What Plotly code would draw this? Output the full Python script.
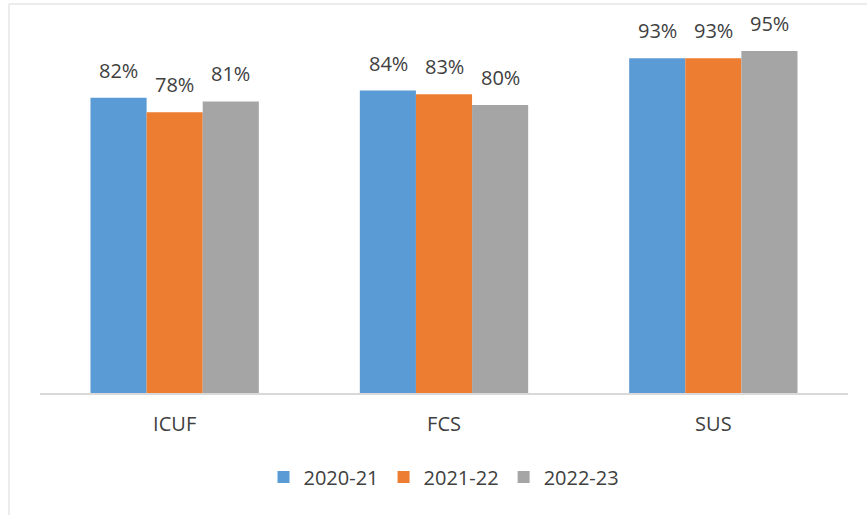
import plotly.graph_objects as go

categories = ["ICUF", "FCS", "SUS"]
series_names = ["2020-21", "2021-22", "2022-23"]
values_2020_21 = [82, 84, 93]
values_2021_22 = [78, 83, 93]
values_2022_23 = [81, 80, 95]
colors = ["#5B9BD5", "#ED7D31", "#A5A5A5"]

W, H = 867, 515
L, R, T, B = 40, 19, 33, 122
pw, ph = W - L - R, H - T - B
BAR_W = 56  # px

fig = go.Figure()
all_vals = [values_2020_21, values_2021_22, values_2022_23]
for i, (name, vals, c) in enumerate(zip(series_names, all_vals, colors)):
    fig.add_trace(go.Bar(
        x=categories, y=vals, name=name, marker_color=c, marker_line_width=0,
        hoverinfo="skip",
    ))
    for cat, v in zip(categories, vals):
        fig.add_annotation(
            x=cat, y=v, xref="x", yref="y", text=f"{v}%", showarrow=False,
            xshift=(i - 1) * BAR_W, yshift=12, yanchor="bottom",
            font=dict(size=20, color="#404040", family="Open Sans"),
        )

def px_x(p):
    return (p - L) / pw

def px_y(p):
    return (H - B - p) / ph

fig.add_shape(type="rect", xref="paper", yref="paper",
              x0=px_x(9), x1=px_x(880), y0=px_y(530), y1=px_y(4),
              line=dict(color="#D9D9D9", width=1), fillcolor="rgba(0,0,0,0)", layer="below")

fig.update_layout(
    width=W, height=H,
    margin=dict(l=L, r=R, t=T, b=B),
    barmode="group", bargap=0.375, bargroupgap=0,
    plot_bgcolor="white", paper_bgcolor="white",
    font=dict(family="Open Sans", color="#404040"),
    xaxis=dict(showline=True, linecolor="#D9D9D9", linewidth=1.5, ticks="",
               tickfont=dict(size=20, color="#404040"), showgrid=False,
               ticklabelstandoff=12),
    yaxis=dict(range=[0, 100], visible=False, showgrid=False),
    legend=dict(orientation="h", x=0.5, xanchor="center", y=px_y(477), yanchor="middle",
                font=dict(size=20, color="#404040"), itemwidth=30, traceorder="normal"),
    showlegend=True,
)

fig.write_html("out.html", config={"displayModeBar": False},
               post_script="document.body.style.margin='0px';document.body.style.overflow='hidden';")
